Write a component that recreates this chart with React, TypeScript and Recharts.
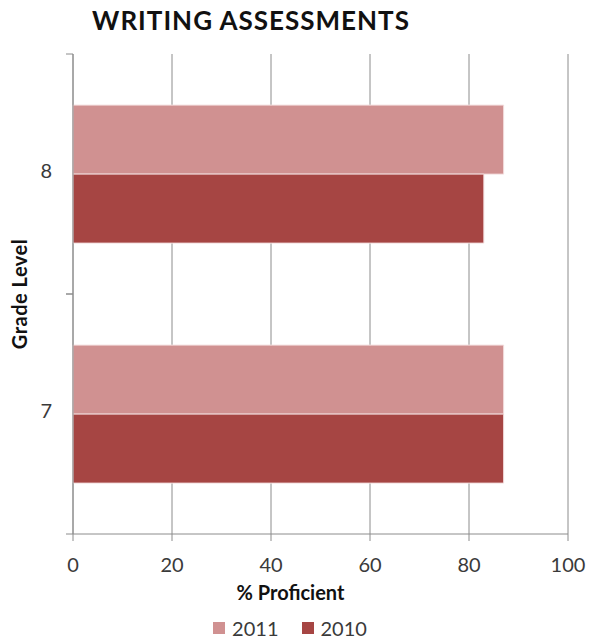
import React from 'react'
import { BarChart, Bar, XAxis, YAxis, CartesianGrid, Legend } from 'recharts'

const grades = ['8', '7']
const values2011 = [87, 87]
const values2010 = [83, 87]
const xTicks = [0, 20, 40, 60, 80, 100]

const data = grades.map((g, i) => ({ grade: g, y2011: values2011[i], y2010: values2010[i] }))

const FONT = 'Lato, "Open Sans", sans-serif'
const LIGHT = '#d09191'
const DARK = '#a64543'
const GRID = '#8c8c8c'
const TEXT = '#3a3a3a'

// category label plus the little boundary ticks Excel draws between groups
const GradeTick = (props: any) => {
  const { x, y, payload } = props
  const half = payload.offset ?? 0
  return (
    <g>
      <text x={x - 21} y={y} dy={4} textAnchor="end" fontSize={20} fill={TEXT} fontFamily={FONT}>
        {payload.value}
      </text>
      <line x1={x - 7} x2={x} y1={y - half} y2={y - half} stroke={GRID} />
      <line x1={x - 7} x2={x} y1={y + half} y2={y + half} stroke={GRID} />
    </g>
  )
}

const LegendContent = () => (
  <div
    style={{
      display: 'flex',
      justifyContent: 'center',
      gap: 23,
      fontFamily: FONT,
      fontSize: 20,
      lineHeight: '24px',
      color: TEXT,
      paddingTop: 14,
      paddingLeft: 12,
    }}
  >
    {[
      { name: '2011', color: LIGHT },
      { name: '2010', color: DARK },
    ].map((s) => (
      <span key={s.name} style={{ display: 'flex', alignItems: 'center', gap: 7 }}>
        <span style={{ width: 12, height: 12, background: s.color, display: 'inline-block' }} />
        {s.name}
      </span>
    ))}
  </div>
)

export default function App() {
  return (
    <div style={{ position: 'absolute', left: 0, top: 0, width: 600, height: 643, background: '#fff' }}>
      <div
        style={{
          position: 'absolute',
          left: 0,
          top: 4,
          width: 502,
          textAlign: 'center',
          fontFamily: FONT,
          fontWeight: 700,
          fontSize: 26,
          letterSpacing: 1,
          color: '#111',
        }}
      >
        WRITING ASSESSMENTS
      </div>
      <BarChart
        width={600}
        height={643}
        data={data}
        layout="vertical"
        margin={{ top: 54, right: 32, bottom: 0, left: 0 }}
        barCategoryGap="21.3%"
        barGap={0}
      >
        <CartesianGrid horizontal={false} stroke={GRID} />
        <XAxis
          type="number"
          domain={[0, 100]}
          ticks={xTicks}
          height={68}
          tickSize={7}
          tickLine={{ stroke: GRID }}
          axisLine={{ stroke: GRID }}
          tick={{ fontSize: 20, fill: TEXT, fontFamily: FONT }}
          tickMargin={17}
          label={{ value: '% Proficient', position: 'insideBottom', dx: -30, offset: 2, fontSize: 20, fontWeight: 700, fill: '#111', fontFamily: FONT }}
        />
        <YAxis
          type="category"
          dataKey="grade"
          width={73}
          tickSize={0}
          tickMargin={0}
          tickLine={false}
          axisLine={{ stroke: GRID }}
          tick={<GradeTick />}
          label={{ value: 'Grade Level', angle: -90, position: 'insideLeft', dx: 15, fontSize: 20, fontWeight: 700, fill: '#111', fontFamily: FONT, letterSpacing: 0.5, style: { textAnchor: 'middle' } }}
        />
        <Legend verticalAlign="bottom" height={41} content={<LegendContent />} />
        <Bar dataKey="y2011" name="2011" fill={LIGHT} stroke="#f3dede" strokeWidth={1} isAnimationActive={false} />
        <Bar dataKey="y2010" name="2010" fill={DARK} stroke="#f3dede" strokeWidth={1} isAnimationActive={false} />
      </BarChart>
    </div>
  )
}
